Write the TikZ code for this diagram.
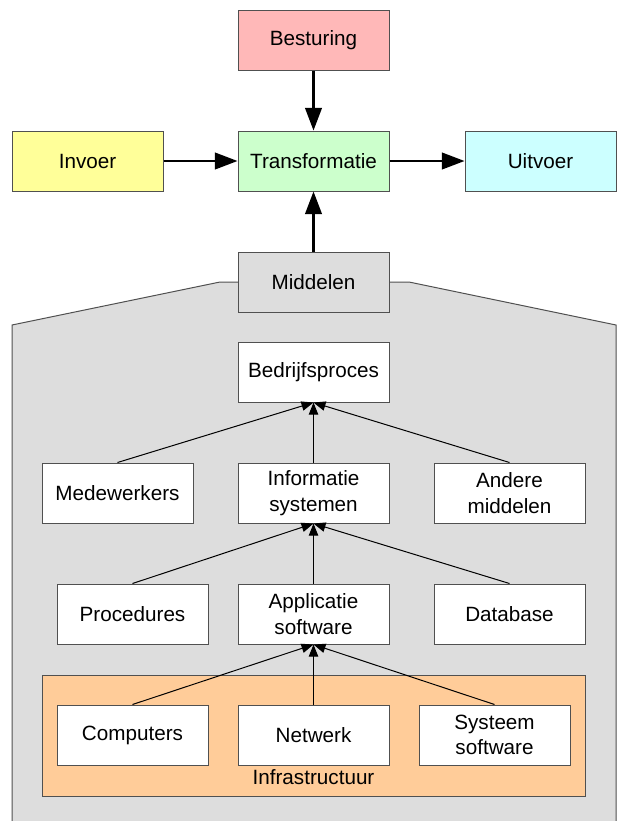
\documentclass[tikz,border=0pt]{standalone}
\usepackage{fontspec}
\setmainfont{Liberation Sans}
\usepackage{tikz}
\usetikzlibrary{arrows.meta}

\definecolor{besturingkleur}{HTML}{FFB8B8}
\definecolor{invoerkleur}{HTML}{FFFF99}
\definecolor{transkleur}{HTML}{CCFFCC}
\definecolor{uitvoerkleur}{HTML}{CCFFFF}
\definecolor{middelkleur}{HTML}{DDDDDD}
\definecolor{infrakleur}{HTML}{FFCC99}
\definecolor{randkleur}{HTML}{505050}

\begin{document}
\begin{tikzpicture}[x=0.75pt,y=-0.75pt,
    blok/.style={draw=randkleur,line width=0.75pt,fill=white,minimum width=113.25pt,
      minimum height=45pt,align=center,font=\fontsize{15.5}{17}\selectfont,inner sep=0pt},
    hoofdpijl/.style={line width=1.6pt,-{Triangle[length=17pt,width=12.5pt]}},
    pijl/.style={line width=0.75pt,-{Triangle[length=9pt,width=7pt]}}]
    \useasboundingbox (0,0) rectangle (618,821);
    % middelen omhulling
    \fill[middelkleur] (12,821) -- (12,325) -- (220,282) -- (409,282) -- (616,325) -- (616,821) -- cycle;
    \draw[randkleur,line width=0.75pt] (12,821) -- (12,325) -- (220,282) -- (409,282) -- (616,325) -- (616,821);
    \draw[randkleur,line width=0.75pt,fill=infrakleur] (42,675) rectangle (585,796);
    \node[font=\fontsize{15.5}{17}\selectfont] (infra) at (313.5,777) {Infrastructuur};
    % bovenste rij
    \node[blok,fill=besturingkleur] (besturing) at (313.5,40) {Besturing};
    \node[blok,fill=invoerkleur] (invoer) at (87.5,161) {Invoer};
    \node[blok,fill=transkleur] (transformatie) at (313.5,161) {Transformatie};
    \node[blok,fill=uitvoerkleur] (uitvoer) at (540.5,161) {Uitvoer};
    \node[blok,fill=middelkleur] (middelen) at (313.5,282) {Middelen};
    \draw[hoofdpijl] (besturing) to (transformatie);
    \draw[hoofdpijl] (invoer) to (transformatie);
    \draw[hoofdpijl] (transformatie) to (uitvoer);
    \draw[hoofdpijl] (middelen) to (transformatie);
    % middelen
    \node[blok] (bedrijf) at (313.5,372) {Bedrijfsproces};
    \node[blok] (medewerkers) at (117.5,493) {Medewerkers};
    \node[blok] (infosys) at (313.5,493) {Informatie\\[2pt]systemen};
    \node[blok] (andere) at (509.5,493) {Andere\\[2pt]middelen};
    \node[blok] (procedures) at (132.5,614) {Procedures};
    \node[blok] (applicatie) at (313.5,614) {Applicatie\\[2pt]software};
    \node[blok] (database) at (509.5,614) {Database};
    \node[blok] (computers) at (132.5,735) {Computers};
    \node[blok] (netwerk) at (313.5,735) {Netwerk};
    \node[blok] (systeem) at (494.5,735) {Systeem\\[2pt]software};
    \foreach \van in {medewerkers,infosys,andere}
      \draw[pijl] (\van.north) to (bedrijf.south);
    \foreach \van in {procedures,applicatie,database}
      \draw[pijl] (\van.north) to (infosys.south);
    \foreach \van in {computers,netwerk,systeem}
      \draw[pijl] (\van.north) to (applicatie.south);
  \end{tikzpicture}
\end{document}
